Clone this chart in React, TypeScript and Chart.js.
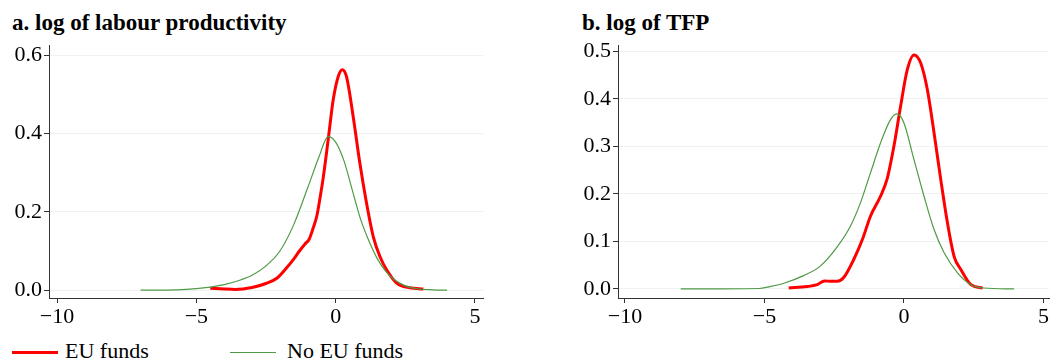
import React, { useEffect, useRef } from "react";
import { Chart, registerables } from "chart.js";

Chart.register(...registerables);

// ---- Data ----
const seriesLabels = ["EU funds", "No EU funds"];
const xTickValues = [-10, -5, 0, 5];
const yTicksLabour = [0, 0.2, 0.4, 0.6];
const yTicksTfp = [0, 0.1, 0.2, 0.3, 0.4, 0.5];

// a. log of labour productivity
const labourEuX = [-4.5, -4.0, -3.6, -3.0, -2.5, -2.1, -1.76, -1.5, -1.3, -1.1, -0.95, -0.8, -0.68, -0.55, -0.44, -0.27, -0.09, 0.09, 0.24, 0.39, 0.63, 0.87, 1.11, 1.35, 1.59, 1.83, 2.19, 2.67, 3.15];
const labourEuY = [0.005, 0.003, 0.002, 0.007, 0.017, 0.031, 0.057, 0.08, 0.1, 0.118, 0.13, 0.16, 0.188, 0.24, 0.29, 0.383, 0.485, 0.545, 0.563, 0.545, 0.443, 0.324, 0.222, 0.137, 0.086, 0.052, 0.018, 0.006, 0.003];
const labourNoX = [-7.0, -5.7, -5.0, -4.5, -4.0, -3.5, -3.0, -2.5, -2.0, -1.5, -1.0, -0.6, -0.27, 0.0, 0.3, 0.6, 0.9, 1.2, 1.5, 1.8, 2.1, 2.5, 3.0, 3.5, 4.0];
const labourNoY = [0, 0.001, 0.004, 0.008, 0.014, 0.024, 0.038, 0.062, 0.1, 0.168, 0.262, 0.34, 0.392, 0.378, 0.33, 0.255, 0.18, 0.125, 0.08, 0.048, 0.027, 0.011, 0.003, 0.001, 0];

// b. log of TFP
const tfpEuX = [-4.13, -3.47, -3.11, -2.85, -2.6, -2.39, -2.16, -1.8, -1.49, -1.2, -0.84, -0.6, -0.36, -0.12, 0.12, 0.36, 0.6, 0.84, 1.08, 1.32, 1.56, 1.8, 2.04, 2.4, 2.82];
const tfpEuY = [0.002, 0.005, 0.009, 0.017, 0.016, 0.016, 0.024, 0.062, 0.104, 0.153, 0.195, 0.232, 0.3, 0.384, 0.461, 0.492, 0.475, 0.419, 0.328, 0.23, 0.139, 0.068, 0.041, 0.009, 0.002];
const tfpNoX = [-8.0, -5.2, -4.8, -4.3, -3.6, -3.0, -2.4, -1.92, -1.56, -1.2, -0.84, -0.48, -0.24, 0.0, 0.36, 0.72, 1.08, 1.44, 1.92, 2.4, 2.87, 3.95];
const tfpNoY = [0, 0.001, 0.005, 0.012, 0.028, 0.048, 0.088, 0.132, 0.181, 0.244, 0.307, 0.356, 0.368, 0.349, 0.272, 0.195, 0.125, 0.076, 0.034, 0.009, 0.002, 0];

const RED = "#ff0000";
const GREEN = "#4f9a45";
const AXIS = "#333333";
const GRID = "#edf2f2";
const FONT = '"Liberation Serif", serif';

const zip = (xs: number[], ys: number[]) => xs.map((x, i) => ({ x, y: ys[i] }));
const fmtX = (v: number) => (v < 0 ? "\u2212" + Math.abs(v) : String(v));

type PanelProps = {
  euX: number[]; euY: number[]; noX: number[]; noY: number[];
  yTicks: number[]; yMin: number; yMax: number; xMin: number; xMax: number;
  yWidth: number; padRight: number;
};

function Panel(p: PanelProps) {
  const ref = useRef<HTMLCanvasElement | null>(null);
  useEffect(() => {
    if (!ref.current) return;
    Chart.defaults.font.family = FONT;
    const chart = new Chart(ref.current, {
      type: "line",
      data: {
        datasets: [
          {
            label: seriesLabels[1],
            data: zip(p.noX, p.noY),
            borderColor: GREEN,
            borderWidth: 1.2,
            pointRadius: 0,
            cubicInterpolationMode: "monotone",
            fill: false,
          },
          {
            label: seriesLabels[0],
            data: zip(p.euX, p.euY),
            borderColor: RED,
            borderWidth: 3,
            pointRadius: 0,
            cubicInterpolationMode: "monotone",
            fill: false,
          },
        ],
      },
      options: {
        animation: false,
        responsive: false,
        maintainAspectRatio: false,
        layout: { padding: { top: 15, right: p.padRight, left: 0, bottom: 0 } },
        plugins: { legend: { display: false }, title: { display: false }, tooltip: { enabled: false } },
        scales: {
          x: {
            type: "linear",
            min: p.xMin,
            max: p.xMax,
            afterBuildTicks: (s: any) => { s.ticks = xTickValues.map((v) => ({ value: v })); },
            afterFit: (s: any) => { s.height = 35; },
            grid: { display: true, drawOnChartArea: false, drawTicks: true, tickLength: 5, tickColor: AXIS, color: AXIS },
            border: { display: true, color: AXIS, width: 1 },
            ticks: { color: "#000", font: { family: FONT, size: 22 }, padding: 1, maxRotation: 0, autoSkip: false, callback: (v: any) => fmtX(Number(v)) },
          },
          y: {
            type: "linear",
            min: p.yMin,
            max: p.yMax,
            afterBuildTicks: (s: any) => { s.ticks = p.yTicks.map((v) => ({ value: v })); },
            afterFit: (s: any) => { s.width = p.yWidth; },
            grid: { display: true, drawOnChartArea: true, drawTicks: true, tickLength: 5, tickColor: AXIS, color: GRID, lineWidth: 1 },
            border: { display: true, color: AXIS, width: 1 },
            ticks: { color: "#000", font: { family: FONT, size: 22 }, padding: 2, autoSkip: false, callback: (v: any) => Number(v).toFixed(1) },
          },
        },
      },
    } as any);
    let alive = true;
    if ((document as any).fonts && (document as any).fonts.load) {
      (document as any).fonts.load('22px "Liberation Serif"').then(() => { if (alive) chart.update(); }).catch(() => {});
    }
    return () => { alive = false; chart.destroy(); };
  }, []);
  return <canvas ref={ref} width={488} height={303} style={{ display: "block" }} />;
}

const titleStyle: React.CSSProperties = {
  position: "absolute", top: 11, fontFamily: FONT, fontWeight: "bold", fontSize: 23, lineHeight: "23px", color: "#000", whiteSpace: "nowrap",
};
const legendText: React.CSSProperties = {
  position: "absolute", top: 340, fontFamily: FONT, fontSize: 22, lineHeight: "22px", color: "#000", whiteSpace: "nowrap",
};

export default function App() {
  return (
    <div style={{ position: "absolute", left: 0, top: 0, width: 1050, height: 363, background: "#fff", overflow: "hidden" }}>
      <div style={{ ...titleStyle, left: 12 }}>a. log of labour productivity</div>
      <div style={{ ...titleStyle, left: 582 }}>b. log of TFP</div>
      <div style={{ position: "absolute", left: 0, top: 30, width: 488, height: 303 }}>
        <Panel euX={labourEuX} euY={labourEuY} noX={labourNoX} noY={labourNoY}
          yTicks={yTicksLabour} yMin={-0.02} yMax={0.6255} xMin={-10.29} xMax={5.29} yWidth={49} padRight={5} />
      </div>
      <div style={{ position: "absolute", left: 570, top: 30, width: 488, height: 303 }}>
        <Panel euX={tfpEuX} euY={tfpEuY} noX={tfpNoX} noY={tfpNoY}
          yTicks={yTicksTfp} yMin={-0.019} yMax={0.5126} xMin={-10.25} xMax={5.2} yWidth={48} padRight={9} />
      </div>
      <div style={{ position: "absolute", left: 12, top: 351, width: 46, height: 3, background: RED }} />
      <div style={{ ...legendText, left: 65 }}>{seriesLabels[0]}</div>
      <div style={{ position: "absolute", left: 230, top: 352, width: 46, height: 1, background: GREEN }} />
      <div style={{ ...legendText, left: 287 }}>{seriesLabels[1]}</div>
    </div>
  );
}
